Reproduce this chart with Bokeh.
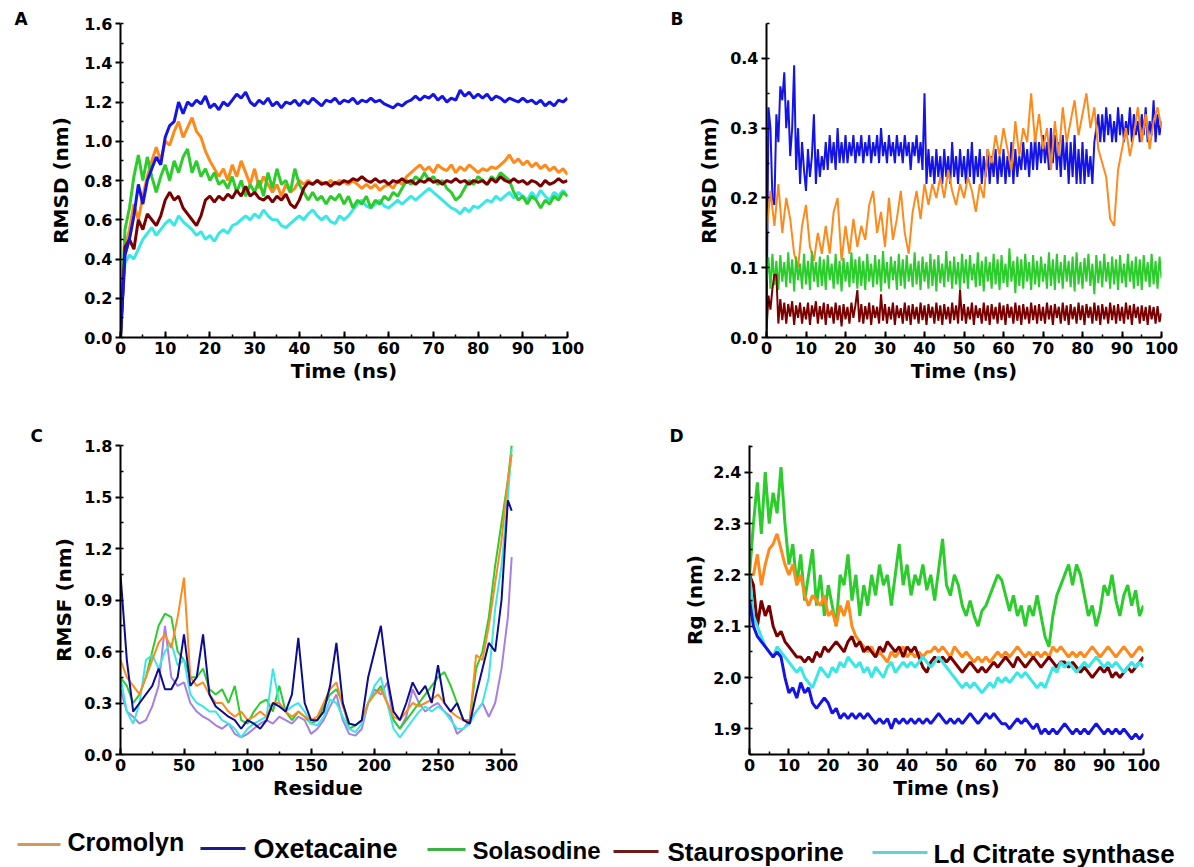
from bokeh.plotting import figure
from bokeh.layouts import column, row
from bokeh.models import Range1d, SingleIntervalTicker, PrintfTickFormatter
from bokeh.core.properties import value
from bokeh.embed import file_html
from bokeh.resources import INLINE

# ---------------- data ----------------
time_ns = list(range(101))
time_half_ns = [i * 0.5 for i in range(201)]
series_names = ["Cromolyn", "Oxetacaine", "Solasodine", "Staurosporine", "Ld Citrate synthase"]
panel_letters = ["A", "B", "C", "D"]

# Panel A: RMSD (nm), 1 ns steps
rmsd_a_cromolyn = [0.0, 0.45, 0.55, 0.68, 0.6, 0.72, 0.82, 0.9, 0.97, 0.9, 1.0,
                   0.98, 1.05, 1.1, 1.02, 1.07, 1.12, 1.05, 1.02, 0.95, 0.9,
                   0.86, 0.82, 0.86, 0.8, 0.88, 0.82, 0.9, 0.84, 0.78, 0.86,
                   0.76, 0.82, 0.78, 0.74, 0.78, 0.72, 0.78, 0.74, 0.76, 0.8,
                   0.78, 0.8, 0.78, 0.8, 0.79, 0.78, 0.8, 0.78, 0.8, 0.79,
                   0.78, 0.8, 0.78, 0.76, 0.78, 0.76, 0.78, 0.75, 0.77, 0.78,
                   0.76, 0.8, 0.78, 0.82, 0.84, 0.86, 0.88, 0.85, 0.87, 0.84,
                   0.88, 0.86, 0.85, 0.88, 0.84, 0.87, 0.85, 0.88, 0.86, 0.84,
                   0.86, 0.85, 0.87, 0.86, 0.88, 0.9, 0.93, 0.89, 0.91, 0.88,
                   0.9, 0.87, 0.89, 0.86, 0.88, 0.85, 0.87, 0.84, 0.86, 0.83]
rmsd_a_oxetacaine = [0.0, 0.42, 0.5, 0.62, 0.78, 0.68, 0.8, 0.86, 0.92, 0.88, 1.02,
                     1.08, 1.1, 1.2, 1.14, 1.2, 1.18, 1.21, 1.19, 1.23, 1.17,
                     1.19, 1.16, 1.2, 1.18, 1.21, 1.24, 1.22, 1.25, 1.2, 1.18,
                     1.21, 1.19, 1.22, 1.18, 1.2, 1.17, 1.2, 1.19, 1.21, 1.18,
                     1.21, 1.19, 1.22, 1.2, 1.18, 1.21, 1.2, 1.22, 1.19, 1.21,
                     1.2, 1.22, 1.19, 1.21, 1.2, 1.22, 1.2, 1.21, 1.19, 1.18,
                     1.17, 1.19, 1.18, 1.2, 1.21, 1.23, 1.21, 1.23, 1.22, 1.24,
                     1.21, 1.23, 1.2, 1.22, 1.21, 1.26, 1.23, 1.25, 1.22, 1.24,
                     1.22, 1.24, 1.21, 1.23, 1.22, 1.2, 1.22, 1.21, 1.2, 1.22,
                     1.2, 1.21, 1.19, 1.21, 1.18, 1.2, 1.18, 1.21, 1.2, 1.22]
rmsd_a_solasodine = [0.0, 0.55, 0.66, 0.82, 0.93, 0.8, 0.92, 0.82, 0.74, 0.82, 0.88,
                     0.8, 0.9, 0.84, 0.92, 0.96, 0.84, 0.9, 0.82, 0.86, 0.8,
                     0.84, 0.78, 0.8, 0.76, 0.82, 0.74, 0.8, 0.72, 0.78, 0.74,
                     0.8, 0.72, 0.84, 0.76, 0.86, 0.78, 0.8, 0.74, 0.86, 0.78,
                     0.74, 0.7, 0.74, 0.7, 0.72, 0.68, 0.72, 0.7, 0.73, 0.68,
                     0.72, 0.66, 0.7, 0.68, 0.72, 0.66, 0.7, 0.68, 0.72, 0.7,
                     0.74, 0.72, 0.76, 0.8, 0.78, 0.82, 0.8, 0.84, 0.8, 0.82,
                     0.78, 0.8, 0.76, 0.74, 0.7, 0.72, 0.76, 0.8, 0.78, 0.82,
                     0.8, 0.78, 0.82, 0.8, 0.84, 0.82, 0.8, 0.74, 0.7, 0.72,
                     0.68, 0.72, 0.7, 0.66, 0.7, 0.68, 0.72, 0.7, 0.74, 0.72]
rmsd_a_staurosporine = [0.0, 0.46, 0.5, 0.45, 0.6, 0.55, 0.63, 0.6, 0.57, 0.62, 0.7,
                        0.74, 0.7, 0.72, 0.66, 0.63, 0.6, 0.57, 0.62, 0.7, 0.72,
                        0.69, 0.72, 0.7, 0.73, 0.71, 0.75, 0.72, 0.77, 0.72, 0.74,
                        0.71, 0.7, 0.72, 0.69, 0.72, 0.7, 0.73, 0.68, 0.66, 0.7,
                        0.76, 0.79, 0.78, 0.8, 0.78, 0.79, 0.77, 0.79, 0.78, 0.8,
                        0.79, 0.81, 0.8, 0.82, 0.8, 0.79, 0.81, 0.79, 0.8, 0.78,
                        0.8, 0.79, 0.81, 0.79, 0.8, 0.78, 0.8, 0.79, 0.81, 0.79,
                        0.8, 0.78, 0.8, 0.79, 0.81, 0.79, 0.8, 0.78, 0.8, 0.79,
                        0.8, 0.78, 0.81, 0.79, 0.82, 0.8, 0.79, 0.81, 0.79, 0.8,
                        0.78, 0.8, 0.79, 0.77, 0.8, 0.78, 0.79, 0.81, 0.79, 0.8]
rmsd_a_citrate = [0.05, 0.38, 0.42, 0.4, 0.45, 0.5, 0.53, 0.56, 0.52, 0.55, 0.58,
                  0.6, 0.57, 0.62, 0.59, 0.57, 0.55, 0.52, 0.54, 0.5, 0.52,
                  0.49, 0.53, 0.55, 0.53, 0.57, 0.58, 0.6, 0.62, 0.6, 0.63,
                  0.61, 0.65, 0.62, 0.6, 0.6, 0.57, 0.56, 0.58, 0.6, 0.62,
                  0.6, 0.63, 0.65, 0.62, 0.6, 0.62, 0.59, 0.58, 0.62, 0.6,
                  0.62, 0.65, 0.68, 0.7, 0.67, 0.66, 0.68, 0.7, 0.67, 0.66,
                  0.68, 0.7, 0.68, 0.7, 0.72, 0.7, 0.72, 0.74, 0.76, 0.74,
                  0.72, 0.7, 0.68, 0.66, 0.65, 0.63, 0.66, 0.64, 0.67, 0.66,
                  0.68, 0.7, 0.69, 0.72, 0.7, 0.72, 0.74, 0.71, 0.74, 0.72,
                  0.7, 0.74, 0.71, 0.75, 0.72, 0.7, 0.74, 0.72, 0.75, 0.72]

# Panel B: RMSD (nm); Cromolyn at 1 ns, others at 0.5 ns
rmsd_b_cromolyn = [0.15, 0.21, 0.16, 0.22, 0.15, 0.2, 0.17, 0.12, 0.1, 0.16, 0.19,
                   0.13, 0.11, 0.15, 0.12, 0.16, 0.12, 0.18, 0.2, 0.11, 0.16,
                   0.12, 0.17, 0.13, 0.16, 0.14, 0.19, 0.21, 0.15, 0.18, 0.13,
                   0.2, 0.14, 0.17, 0.21, 0.15, 0.12, 0.18, 0.21, 0.17, 0.22,
                   0.19, 0.22, 0.2, 0.23, 0.2, 0.24, 0.21, 0.19, 0.22, 0.2,
                   0.23, 0.21, 0.18, 0.22, 0.2, 0.27, 0.25, 0.29, 0.26, 0.3,
                   0.27, 0.24, 0.31, 0.26, 0.3, 0.28, 0.35, 0.28, 0.32, 0.27,
                   0.3, 0.24, 0.31, 0.26, 0.33, 0.28, 0.31, 0.34, 0.29, 0.32,
                   0.35, 0.3, 0.33, 0.27, 0.25, 0.23, 0.17, 0.16, 0.24, 0.27,
                   0.3, 0.26, 0.29, 0.33, 0.28, 0.32, 0.27, 0.31, 0.33, 0.3]
rmsd_b_oxetacaine = [0.0, 0.33, 0.3, 0.2, 0.19, 0.32, 0.28, 0.36, 0.34, 0.38,
                     0.3, 0.34, 0.26, 0.3, 0.39, 0.24, 0.3, 0.22, 0.28, 0.24,
                     0.21, 0.27, 0.23, 0.26, 0.32, 0.22, 0.27, 0.23, 0.26, 0.24,
                     0.28, 0.24, 0.29, 0.25, 0.28, 0.24, 0.3, 0.25, 0.28, 0.25,
                     0.29, 0.25, 0.28, 0.26, 0.29, 0.25, 0.28, 0.26, 0.29, 0.25,
                     0.28, 0.26, 0.29, 0.25, 0.28, 0.26, 0.29, 0.25, 0.3, 0.26,
                     0.28, 0.25, 0.29, 0.26, 0.28, 0.25, 0.29, 0.26, 0.28, 0.25,
                     0.29, 0.26, 0.28, 0.24, 0.28, 0.26, 0.29, 0.25, 0.28, 0.24,
                     0.35, 0.22, 0.27, 0.23, 0.26, 0.22, 0.27, 0.23, 0.26, 0.22,
                     0.27, 0.23, 0.26, 0.22, 0.28, 0.23, 0.26, 0.22, 0.27, 0.23,
                     0.26, 0.22, 0.27, 0.23, 0.28, 0.22, 0.26, 0.23, 0.27, 0.22,
                     0.26, 0.23, 0.27, 0.22, 0.26, 0.23, 0.27, 0.22, 0.26, 0.23,
                     0.27, 0.22, 0.26, 0.23, 0.28, 0.22, 0.27, 0.23, 0.26, 0.24,
                     0.28, 0.24, 0.27, 0.23, 0.28, 0.24, 0.29, 0.24, 0.28, 0.25,
                     0.29, 0.25, 0.28, 0.24, 0.3, 0.25, 0.29, 0.24, 0.28, 0.23,
                     0.29, 0.24, 0.28, 0.22, 0.28, 0.23, 0.29, 0.22, 0.27, 0.22,
                     0.28, 0.22, 0.27, 0.23, 0.26, 0.22, 0.28, 0.3, 0.32, 0.28,
                     0.32, 0.28, 0.33, 0.29, 0.32, 0.28, 0.31, 0.28, 0.33, 0.29,
                     0.32, 0.28, 0.31, 0.29, 0.33, 0.28, 0.32, 0.29, 0.31, 0.28,
                     0.32, 0.29, 0.33, 0.28, 0.31, 0.29, 0.34, 0.28, 0.32, 0.29,
                     0.31]
rmsd_b_solasodine = [0.08, 0.115, 0.07, 0.12, 0.075, 0.11, 0.068, 0.118, 0.08, 0.108,
                     0.072, 0.122, 0.078, 0.112, 0.066, 0.116, 0.082, 0.106, 0.07, 0.12,
                     0.076, 0.11, 0.068, 0.124, 0.08, 0.108, 0.072, 0.116, 0.074, 0.112,
                     0.068, 0.118, 0.082, 0.106, 0.07, 0.12, 0.076, 0.11, 0.066, 0.114,
                     0.08, 0.108, 0.072, 0.122, 0.078, 0.112, 0.07, 0.116, 0.074, 0.11,
                     0.068, 0.12, 0.08, 0.106, 0.072, 0.118, 0.076, 0.112, 0.066, 0.124,
                     0.078, 0.108, 0.07, 0.116, 0.082, 0.11, 0.068, 0.12, 0.074, 0.112,
                     0.07, 0.118, 0.08, 0.106, 0.072, 0.122, 0.076, 0.11, 0.068, 0.116,
                     0.08, 0.108, 0.07, 0.12, 0.074, 0.112, 0.066, 0.118, 0.078, 0.106,
                     0.072, 0.124, 0.08, 0.11, 0.07, 0.116, 0.076, 0.108, 0.068, 0.12,
                     0.078, 0.112, 0.07, 0.118, 0.082, 0.106, 0.072, 0.122, 0.074, 0.11,
                     0.066, 0.116, 0.08, 0.108, 0.07, 0.12, 0.076, 0.112, 0.068, 0.118,
                     0.078, 0.106, 0.072, 0.128, 0.08, 0.11, 0.064, 0.116, 0.074, 0.112,
                     0.07, 0.12, 0.08, 0.108, 0.068, 0.118, 0.076, 0.11, 0.072, 0.116,
                     0.08, 0.106, 0.07, 0.122, 0.074, 0.112, 0.068, 0.12, 0.078, 0.108,
                     0.07, 0.118, 0.08, 0.11, 0.072, 0.116, 0.066, 0.122, 0.076, 0.108,
                     0.07, 0.114, 0.08, 0.12, 0.074, 0.106, 0.062, 0.118, 0.078, 0.11,
                     0.072, 0.12, 0.08, 0.108, 0.07, 0.116, 0.076, 0.112, 0.068, 0.118,
                     0.078, 0.106, 0.072, 0.12, 0.08, 0.11, 0.07, 0.116, 0.074, 0.112,
                     0.068, 0.118, 0.08, 0.108, 0.072, 0.12, 0.076, 0.11, 0.07, 0.116,
                     0.085]
rmsd_b_staurosporine = [0.01, 0.06, 0.04, 0.07, 0.09, 0.09, 0.02, 0.055, 0.025, 0.05,
                        0.02, 0.048, 0.03, 0.052, 0.018, 0.046, 0.028, 0.05, 0.02, 0.044,
                        0.026, 0.05, 0.018, 0.046, 0.03, 0.052, 0.02, 0.045, 0.026, 0.05,
                        0.018, 0.048, 0.028, 0.044, 0.02, 0.05, 0.025, 0.046, 0.016, 0.048,
                        0.026, 0.044, 0.02, 0.05, 0.028, 0.046, 0.068, 0.022, 0.048, 0.02,
                        0.045, 0.026, 0.05, 0.018, 0.046, 0.028, 0.044, 0.02, 0.062, 0.024,
                        0.048, 0.02, 0.044, 0.026, 0.05, 0.018, 0.046, 0.028, 0.042, 0.02,
                        0.05, 0.024, 0.046, 0.018, 0.048, 0.026, 0.044, 0.02, 0.05, 0.025,
                        0.046, 0.018, 0.048, 0.028, 0.044, 0.02, 0.05, 0.024, 0.046, 0.018,
                        0.048, 0.026, 0.044, 0.02, 0.05, 0.025, 0.046, 0.02, 0.068, 0.024,
                        0.048, 0.02, 0.044, 0.026, 0.05, 0.018, 0.046, 0.028, 0.042, 0.02,
                        0.05, 0.024, 0.046, 0.018, 0.048, 0.026, 0.044, 0.02, 0.05, 0.025,
                        0.046, 0.018, 0.048, 0.028, 0.044, 0.02, 0.05, 0.024, 0.046, 0.018,
                        0.048, 0.026, 0.044, 0.02, 0.05, 0.025, 0.046, 0.02, 0.048, 0.024,
                        0.044, 0.02, 0.05, 0.026, 0.046, 0.018, 0.048, 0.028, 0.044, 0.02,
                        0.05, 0.024, 0.046, 0.018, 0.048, 0.026, 0.044, 0.02, 0.05, 0.025,
                        0.046, 0.018, 0.048, 0.028, 0.044, 0.02, 0.05, 0.024, 0.046, 0.018,
                        0.048, 0.026, 0.044, 0.02, 0.05, 0.025, 0.046, 0.02, 0.048, 0.024,
                        0.044, 0.02, 0.05, 0.026, 0.046, 0.018, 0.048, 0.028, 0.044, 0.02,
                        0.046, 0.024, 0.044, 0.018, 0.046, 0.026, 0.044, 0.02, 0.045, 0.022,
                        0.035]

# Panel C: RMSF (nm) per residue
residues = list(range(0, 306, 5)) + [308]
rmsf_cromolyn = [0.55, 0.45, 0.4, 0.35, 0.45, 0.55, 0.65, 0.7, 0.62, 0.8,
                 1.03, 0.45, 0.4, 0.42, 0.35, 0.3, 0.3, 0.25, 0.22, 0.25,
                 0.2, 0.22, 0.25, 0.22, 0.3, 0.3, 0.25, 0.22, 0.25, 0.22,
                 0.2, 0.22, 0.3, 0.38, 0.42, 0.28, 0.18, 0.17, 0.2, 0.3,
                 0.35, 0.38, 0.3, 0.22, 0.2, 0.25, 0.3, 0.28, 0.3, 0.32,
                 0.35, 0.3, 0.25, 0.22, 0.2, 0.2, 0.58, 0.55, 0.75, 1.0,
                 1.25, 1.6, 1.75]
rmsf_oxetacaine = [1.05, 0.55, 0.25, 0.3, 0.35, 0.4, 0.5, 0.38, 0.38, 0.45,
                   0.7, 0.4, 0.45, 0.7, 0.35, 0.28, 0.25, 0.22, 0.2, 0.15,
                   0.2, 0.18, 0.15, 0.2, 0.3, 0.28, 0.25, 0.35, 0.68, 0.3,
                   0.2, 0.2, 0.25, 0.4, 0.65, 0.3, 0.18, 0.17, 0.2, 0.45,
                   0.6, 0.75, 0.45, 0.25, 0.2, 0.3, 0.42, 0.35, 0.4, 0.3,
                   0.52, 0.3, 0.25, 0.3, 0.2, 0.18, 0.35, 0.5, 0.65, 0.6,
                   0.9, 1.48, 1.42]
rmsf_solasodine = [0.45, 0.4, 0.3, 0.35, 0.45, 0.6, 0.75, 0.82, 0.8, 0.6,
                   0.55, 0.45, 0.45, 0.5, 0.38, 0.35, 0.38, 0.3, 0.4, 0.2,
                   0.18, 0.25, 0.3, 0.32, 0.25, 0.4, 0.25, 0.2, 0.25, 0.22,
                   0.18, 0.2, 0.28, 0.35, 0.38, 0.3, 0.15, 0.17, 0.2, 0.3,
                   0.35, 0.4, 0.3, 0.2, 0.15, 0.2, 0.25, 0.3, 0.35, 0.4,
                   0.45, 0.48, 0.4, 0.3, 0.2, 0.2, 0.5, 0.6, 0.8, 1.1,
                   1.35, 1.6, 1.8]
rmsf_staurosporine = [0.38, 0.25, 0.22, 0.18, 0.2, 0.28, 0.4, 0.75, 0.45, 0.4,
                      0.42, 0.3, 0.25, 0.22, 0.2, 0.17, 0.15, 0.18, 0.12, 0.1,
                      0.12, 0.15, 0.18, 0.2, 0.18, 0.22, 0.2, 0.18, 0.22, 0.2,
                      0.12, 0.15, 0.2, 0.28, 0.35, 0.2, 0.12, 0.11, 0.15, 0.3,
                      0.38, 0.35, 0.42, 0.2, 0.15, 0.22, 0.38, 0.3, 0.25, 0.28,
                      0.3, 0.25, 0.22, 0.12, 0.15, 0.2, 0.25, 0.3, 0.22, 0.3,
                      0.5, 0.8, 1.15]
rmsf_citrate = [0.45, 0.25, 0.18, 0.3, 0.55, 0.58, 0.5, 0.6, 0.65, 0.52,
                0.55, 0.35, 0.3, 0.28, 0.25, 0.25, 0.2, 0.18, 0.15, 0.1,
                0.15, 0.18, 0.2, 0.22, 0.5, 0.3, 0.25, 0.28, 0.3, 0.25,
                0.18, 0.17, 0.22, 0.32, 0.3, 0.22, 0.15, 0.13, 0.18, 0.3,
                0.4, 0.45, 0.3, 0.15, 0.1, 0.15, 0.2, 0.25, 0.28, 0.25,
                0.28, 0.25, 0.2, 0.15, 0.15, 0.18, 0.25, 0.3, 0.45, 0.85,
                1.1, 1.5, 1.78]

# Panel D: Rg (nm), 1 ns steps
rg_cromolyn = [2.2, 2.2, 2.24, 2.18, 2.22, 2.25, 2.26, 2.28, 2.25, 2.22, 2.2,
               2.22, 2.18, 2.2, 2.16, 2.14, 2.16, 2.15, 2.14, 2.16, 2.12,
               2.13, 2.1, 2.14, 2.12, 2.15, 2.1, 2.08, 2.07, 2.06, 2.05,
               2.06, 2.04, 2.05, 2.04, 2.03, 2.05, 2.04, 2.05, 2.06, 2.04,
               2.05, 2.04, 2.05, 2.04, 2.05, 2.05, 2.06, 2.05, 2.06, 2.05,
               2.04, 2.06, 2.05, 2.04, 2.05, 2.04, 2.03, 2.04, 2.03, 2.04,
               2.03, 2.04, 2.05, 2.04, 2.05, 2.04, 2.05, 2.06, 2.05, 2.04,
               2.05, 2.04, 2.05, 2.04, 2.05, 2.04, 2.06, 2.05, 2.06, 2.05,
               2.04, 2.05, 2.04, 2.05, 2.04, 2.05, 2.06, 2.05, 2.04, 2.05,
               2.06, 2.05, 2.04, 2.05, 2.06, 2.05, 2.04, 2.05, 2.06, 2.05]
rg_oxetacaine = [2.15, 2.1, 2.08, 2.07, 2.06, 2.05, 2.04, 2.05, 2.04, 2.0, 1.97,
                 1.98, 1.96, 1.99, 1.97, 1.98, 1.95, 1.94, 1.95, 1.96, 1.95,
                 1.93, 1.94, 1.92, 1.93, 1.92, 1.93, 1.92, 1.93, 1.92, 1.93,
                 1.92, 1.91, 1.92, 1.91, 1.92, 1.9, 1.92, 1.91, 1.92, 1.91,
                 1.92, 1.91, 1.92, 1.91, 1.92, 1.91, 1.92, 1.93, 1.92, 1.91,
                 1.92, 1.91, 1.92, 1.91, 1.92, 1.93, 1.92, 1.91, 1.92, 1.93,
                 1.92, 1.93, 1.92, 1.91, 1.91, 1.9, 1.91, 1.92, 1.91, 1.92,
                 1.91, 1.9, 1.91, 1.89, 1.9, 1.89, 1.9, 1.89, 1.9, 1.91,
                 1.9, 1.89, 1.9, 1.89, 1.9, 1.89, 1.9, 1.91, 1.9, 1.89,
                 1.9, 1.89, 1.9, 1.89, 1.9, 1.89, 1.88, 1.89, 1.88, 1.89]
rg_solasodine = [2.2, 2.3, 2.38, 2.28, 2.4, 2.3, 2.36, 2.32, 2.41, 2.3, 2.22,
                 2.26, 2.18, 2.24, 2.15, 2.2, 2.25, 2.14, 2.2, 2.12, 2.18,
                 2.14, 2.1, 2.2, 2.18, 2.24, 2.15, 2.2, 2.12, 2.18, 2.14,
                 2.2, 2.16, 2.22, 2.18, 2.2, 2.14, 2.2, 2.26, 2.18, 2.22,
                 2.16, 2.2, 2.18, 2.22, 2.17, 2.2, 2.15, 2.21, 2.27, 2.18,
                 2.16, 2.2, 2.18, 2.14, 2.12, 2.15, 2.12, 2.1, 2.13, 2.14,
                 2.16, 2.18, 2.2, 2.19, 2.16, 2.13, 2.16, 2.12, 2.14, 2.1,
                 2.14, 2.12, 2.16, 2.12, 2.08, 2.06, 2.12, 2.16, 2.18, 2.2,
                 2.22, 2.18, 2.22, 2.2, 2.16, 2.12, 2.14, 2.1, 2.13, 2.18,
                 2.16, 2.2, 2.15, 2.12, 2.16, 2.18, 2.14, 2.17, 2.12, 2.14]
rg_staurosporine = [2.2, 2.18, 2.1, 2.15, 2.12, 2.14, 2.1, 2.08, 2.09, 2.07, 2.06,
                    2.05, 2.04, 2.04, 2.03, 2.04, 2.03, 2.05, 2.04, 2.06, 2.05,
                    2.06, 2.07, 2.06, 2.05, 2.07, 2.08, 2.06, 2.07, 2.05, 2.06,
                    2.05, 2.04, 2.06, 2.05, 2.07, 2.06, 2.05, 2.06, 2.04, 2.06,
                    2.05, 2.06, 2.04, 2.02, 2.01, 2.03, 2.04, 2.03, 2.04, 2.03,
                    2.04, 2.03, 2.02, 2.01, 2.02, 2.03, 2.02, 2.01, 2.02, 2.01,
                    2.02, 2.03, 2.02, 2.03, 2.04, 2.03, 2.02, 2.04, 2.03, 2.02,
                    2.03, 2.04, 2.03, 2.02, 2.03, 2.04, 2.03, 2.02, 2.03, 2.03,
                    2.02, 2.03, 2.02, 2.01, 2.02, 2.01, 2.0, 2.01, 2.02, 2.01,
                    2.02, 2.0, 2.01, 2.0, 2.01, 2.02, 2.01, 2.02, 2.03, 2.04]
rg_citrate = [2.2, 2.12, 2.1, 2.08, 2.06, 2.05, 2.04, 2.06, 2.05, 2.04, 2.03,
              2.02, 2.01, 2.02, 2.0, 1.99, 1.98, 2.0, 2.02, 2.01, 2.0,
              2.02, 2.01, 2.03, 2.02, 2.04, 2.03, 2.02, 2.03, 2.01, 2.02,
              2.0, 2.02, 2.01, 2.0, 2.02, 2.03, 2.01, 2.02, 2.03, 2.02,
              2.03, 2.02, 2.03, 2.04, 2.03, 2.02, 2.03, 2.04, 2.03, 2.02,
              2.01, 2.0, 1.99, 1.98, 1.99, 1.98, 1.99, 1.98, 1.97, 1.98,
              1.99, 1.98, 2.0, 1.99, 2.0, 1.99, 2.0, 2.01, 2.0, 2.01,
              2.0, 1.99, 1.98, 1.99, 1.98, 2.0, 2.02, 2.01, 2.03, 2.02,
              2.03, 2.02, 2.01, 2.02, 2.03, 2.02, 2.03, 2.04, 2.03, 2.02,
              2.03, 2.02, 2.03, 2.02, 2.01, 2.02, 2.03, 2.02, 2.03, 2.02]

# ---------------- style ----------------
C_ORANGE = "#ff8a1c"
C_BLUE = "#1414e6"
C_NAVY = "#0c0c90"
C_GREEN = "#2ccc2c"
C_BROWN = "#7a0000"
C_CYAN = "#3ae6e6"
C_PURPLE = "#a77fe0"
LEGEND_COLORS = ["#d29a5a", "#1c1c8c", "#3cb043", "#6e1a1a", "#5fd3dc"]

TICK_FONT = "DejaVu Sans"
TICK_SIZE = "16px"
LABEL_SIZE = "20px"


def make_panel(w, h, xr, yr, borders, xlabel, ylabel, xtick, ytick, xfmt, yfmt,
               ystandoff, letter, letter_offset, letter_standoff):
    left, right, top, bottom = borders
    p = figure(width=w, height=h, x_range=Range1d(*xr), y_range=Range1d(*yr),
               output_backend="svg", toolbar_location=None,
               min_border_left=left, min_border_right=right,
               min_border_top=top, min_border_bottom=bottom)
    p.outline_line_color = None
    p.grid.visible = False
    p.background_fill_color = "white"
    p.border_fill_color = "white"

    p.title.text = letter
    p.title.align = "left"
    p.title.offset = letter_offset
    p.title.standoff = letter_standoff
    p.title.text_font = TICK_FONT
    p.title.text_font_style = "bold"
    p.title.text_font_size = "17px"
    p.title.text_color = "black"

    xa = p.xaxis[0]
    xa.ticker = SingleIntervalTicker(interval=xtick, num_minor_ticks=2)
    xa.formatter = PrintfTickFormatter(format=xfmt)
    xa.axis_label = xlabel
    xa.major_tick_in = 6
    xa.major_tick_out = 0
    xa.minor_tick_in = 3
    xa.minor_tick_out = 0
    xa.major_label_standoff = 4
    xa.axis_label_standoff = 2

    ya = p.yaxis[0]
    ya.ticker = SingleIntervalTicker(interval=ytick, num_minor_ticks=2)
    ya.formatter = PrintfTickFormatter(format=yfmt)
    ya.axis_label = ylabel
    ya.major_tick_in = 0
    ya.major_tick_out = 5
    ya.minor_tick_in = 3
    ya.minor_tick_out = 0
    ya.major_label_standoff = 3
    ya.axis_label_standoff = ystandoff

    for ax in (xa, ya):
        ax.axis_line_width = 2
        ax.axis_line_color = "black"
        ax.major_tick_line_width = 2
        ax.minor_tick_line_width = 1.5
        ax.major_label_text_font = TICK_FONT
        ax.major_label_text_font_style = "bold"
        ax.major_label_text_font_size = TICK_SIZE
        ax.major_label_text_color = "black"
        ax.axis_label_text_font = TICK_FONT
        ax.axis_label_text_font_style = "bold"
        ax.axis_label_text_font_size = LABEL_SIZE
        ax.axis_label_text_color = "black"
    return p


# Panel A
pA = make_panel(600, 397, (0, 100), (0, 1.6), (120, 33, 23, 59),
                "Time (ns)", "RMSD (nm)", 10, 0.2, "%d", "%.1f", 8,
                panel_letters[0], -106, -10)
for xs, ys, col in [(time_ns, rmsd_a_citrate, C_CYAN), (time_ns, rmsd_a_cromolyn, C_ORANGE),
                    (time_ns, rmsd_a_solasodine, C_GREEN), (time_ns, rmsd_a_staurosporine, C_BROWN),
                    (time_ns, rmsd_a_oxetacaine, C_BLUE)]:
    pA.line(xs[:len(ys)], ys, line_color=col, line_width=3)

# Panel B
pB = make_panel(594, 397, (0, 100), (0, 0.45), (166, 33, 23, 60),
                "Time (ns)", "RMSD (nm)", 10, 0.1, "%d", "%.1f", 6,
                panel_letters[1], -96, -10)
for xs, ys, col in [(time_half_ns, rmsd_b_oxetacaine, C_BLUE), (time_ns, rmsd_b_cromolyn, C_ORANGE),
                    (time_half_ns, rmsd_b_solasodine, C_GREEN),
                    (time_half_ns, rmsd_b_staurosporine, C_BROWN)]:
    pB.line(xs[:len(ys)], ys, line_color=col, line_width=2)

# Panel C
pC = make_panel(600, 423, (0, 311), (0, 1.8), (120, 85, 44, 66),
                "Residue", "RMSF (nm)", 50, 0.3, "%d", "%.1f", 5,
                panel_letters[2], -90, 0)
for ys, col in [(rmsf_staurosporine, C_PURPLE), (rmsf_solasodine, C_GREEN),
                (rmsf_citrate, C_CYAN), (rmsf_cromolyn, C_ORANGE),
                (rmsf_oxetacaine, C_NAVY)]:
    pC.line(residues[:len(ys)], ys, line_color=col, line_width=2)

# Panel D
pD = make_panel(594, 423, (0, 100), (1.85, 2.452), (149, 51, 48, 60),
                "Time (ns)", "Rg (nm)", 10, 0.1, "%d", "%.1f", 3,
                panel_letters[3], -80, 0)
for ys, col in [(rg_solasodine, C_GREEN), (rg_cromolyn, C_ORANGE),
                (rg_staurosporine, C_BROWN), (rg_citrate, C_CYAN),
                (rg_oxetacaine, C_BLUE)]:
    pD.line(time_ns[:len(ys)], ys, line_color=col, line_width=3)

# Legend strip (pixel-unit ranges, y downward)
pL = figure(width=1194, height=47, x_range=Range1d(0, 1194), y_range=Range1d(47, 0),
            output_backend="svg", toolbar_location=None,
            min_border_left=0, min_border_right=0, min_border_top=0, min_border_bottom=0)
pL.axis.visible = False
pL.grid.visible = False
pL.outline_line_color = None
leg_line_x0 = [17, 200, 427, 613, 872]
leg_line_x1 = [60, 245, 465, 658, 927]
leg_line_y = [24, 28, 29, 31, 32]
leg_text_x = [67, 253, 472, 667, 933]
leg_text_y = [21, 28, 30, 31, 33]
leg_sizes = ["25px", "27px", "24px", "26px", "26px"]
pL.segment(x0=leg_line_x0, y0=leg_line_y, x1=leg_line_x1, y1=leg_line_y,
           line_color=LEGEND_COLORS, line_width=3)
for name, tx, ty, fs in zip(series_names, leg_text_x, leg_text_y, leg_sizes):
    pL.text(x=[tx], y=[ty], text=[name], text_font=value("Liberation Sans"),
            text_font_style="bold", text_font_size=fs, text_align="left",
            text_baseline="middle", text_color="black")

layout = column(row(pA, pB), row(pC, pD), pL)
open("out.html", "w").write(file_html(layout, INLINE))
